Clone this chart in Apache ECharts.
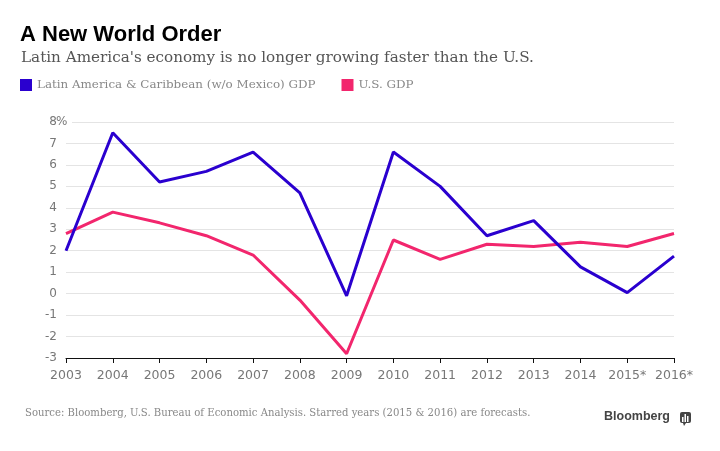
<!DOCTYPE html>
<html>
<head>
<meta charset="utf-8">
<script src="https://cdn.jsdelivr.net/npm/echarts@6/dist/echarts.min.js"></script>
<style>
html,body{margin:0;padding:0;background:#fff;}
#chart{width:720px;height:451px;}
</style>
</head>
<body>
<div id="chart"></div>
<script>
const years = ['2003','2004','2005','2006','2007','2008','2009','2010','2011','2012','2013','2014','2015*','2016*'];
const latamGDP = [2.0, 7.5, 5.2, 5.7, 6.6, 4.7, -0.1, 6.6, 5.0, 2.7, 3.4, 1.25, 0.05, 1.75];
const usGDP = [2.8, 3.8, 3.3, 2.7, 1.8, -0.3, -2.8, 2.5, 1.6, 2.3, 2.2, 2.4, 2.2, 2.8];
const seriesNames = ['Latin America & Caribbean (w/o Mexico) GDP', 'U.S. GDP'];
const yMin = -3, yMax = 8, yStep = 1;

const chart = echarts.init(document.getElementById('chart'), null, {renderer: 'canvas'});
chart.setOption({
  animation: false,
  backgroundColor: '#ffffff',
  color: ['#2a00cf', '#f2266d'],
  title: [
    {text: 'A New World Order', left: 15, top: 19,
     textStyle: {fontFamily: 'Liberation Sans', fontWeight: 'bold', fontSize: 22, color: '#000'}},
    {text: "Latin America's economy is no longer growing faster than the U.S.", left: 16, top: 46,
     textStyle: {fontFamily: 'DejaVu Serif', fontWeight: 'normal', fontSize: 15.2, color: '#555'}},
    {text: 'Source: Bloomberg, U.S. Bureau of Economic Analysis. Starred years (2015 & 2016) are forecasts.', left: 20, top: 403,
     textStyle: {fontFamily: 'DejaVu Serif', fontWeight: 'normal', fontSize: 10.1, color: '#888'}},
    {text: 'Bloomberg', left: 599, top: 405,
     textStyle: {fontFamily: 'Liberation Sans', fontWeight: 'bold', fontSize: 12.5, color: '#444'}}
  ],
  legend: {
    left: 15, top: 74, itemWidth: 12, itemHeight: 12, itemGap: 26, icon: 'rect',
    data: seriesNames,
    textStyle: {fontFamily: 'DejaVu Serif', fontSize: 11.9, color: '#888'}
  },
  grid: {left: 66, right: 46, top: 122, bottom: 93, containLabel: false},
  xAxis: {
    type: 'category', data: years, boundaryGap: false,
    axisLine: {onZero: false, lineStyle: {color: '#111', width: 1}},
    axisTick: {show: true, length: 5, lineStyle: {color: '#111'}},
    axisLabel: {fontFamily: 'DejaVu Sans', fontSize: 12.5, color: '#777', margin: 11, interval: 0}
  },
  yAxis: {
    type: 'value', min: yMin, max: yMax, interval: yStep,
    axisLine: {show: false}, axisTick: {show: false},
    splitLine: {lineStyle: {color: '#e4e4e4', width: 1}},
    axisLabel: {fontFamily: 'DejaVu Sans', fontSize: 12, color: '#777', margin: 9}
  },
  graphic: [
    {type: 'rect', shape: {x: 57, y: 119, width: 15, height: 6}, style: {fill: '#fff'}, z: 5},
    {type: 'text', x: 56, y: 122, style: {text: '%', font: '12px "DejaVu Sans"', fill: '#777', textVerticalAlign: 'middle', textAlign: 'left'}, z: 6},
    {type: 'rect', shape: {x: 680, y: 412, width: 11, height: 11, r: 2}, style: {fill: '#444'}, z: 10},
    {type: 'polygon', shape: {points: [[683,423],[686,423],[684,426]]}, style: {fill: '#444'}, z: 10},
    {type: 'rect', shape: {x: 682, y: 417, width: 1.5, height: 5}, style: {fill: '#fff'}, z: 11},
    {type: 'rect', shape: {x: 684.5, y: 414, width: 1.5, height: 8}, style: {fill: '#fff'}, z: 11},
    {type: 'rect', shape: {x: 687, y: 416, width: 1.5, height: 6}, style: {fill: '#fff'}, z: 11}
  ],
  series: [
    {name: seriesNames[0], type: 'line', data: latamGDP, showSymbol: false, symbol: 'none',
     lineStyle: {width: 3}, z: 3},
    {name: seriesNames[1], type: 'line', data: usGDP, showSymbol: false, symbol: 'none',
     lineStyle: {width: 3}, z: 2}
  ]
});
</script>
</body>
</html>
